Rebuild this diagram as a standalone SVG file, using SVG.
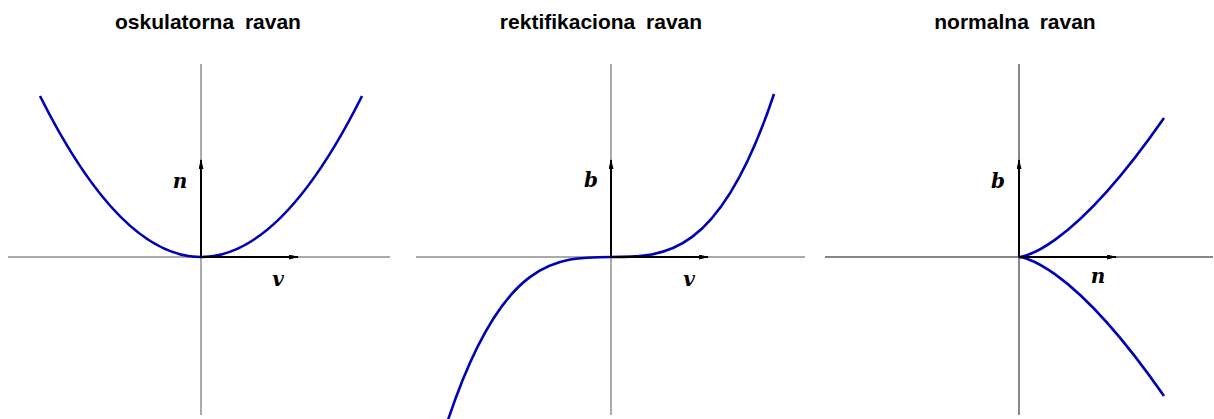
<svg xmlns="http://www.w3.org/2000/svg" width="1214" height="419" viewBox="0 0 1214 419">
<style>
.title{font-family:"Liberation Sans",Arial,sans-serif;font-weight:bold;font-size:21px;fill:#000;text-anchor:middle;word-spacing:5px}
.lbl{font-family:"DejaVu Serif","Liberation Serif",serif;font-weight:bold;font-style:italic;font-size:20px;fill:#000;text-anchor:middle}
.axis{stroke:#555;stroke-width:1;fill:none}
.axis3{stroke:#111;stroke-width:1;fill:none}
.vec{stroke:#000;stroke-width:2;fill:none;marker-end:url(#ah)}
.curve{stroke:#0000b4;stroke-width:2.6;fill:none}
</style>
<defs>
<marker id="ah" viewBox="0 0 10 5" refX="9" refY="2.5" markerWidth="5" markerHeight="2.5" orient="auto" markerUnits="strokeWidth">
<path d="M0,0 L10,2.5 L0,5 Z" fill="#000"/>
</marker>
</defs>
<g id="panel1">
<text class="title" x="208" y="29">oskulatorna ravan</text>
<line class="axis" x1="8" y1="257" x2="390" y2="257"/>
<line class="axis" x1="201" y1="64" x2="201" y2="415"/>
<path class="curve" d="M40,96 Q201,418 362,96"/>
<line class="vec" x1="201" y1="257" x2="201" y2="160"/>
<line class="vec" x1="201" y1="257" x2="298" y2="257"/>
<text class="lbl" x="180" y="188">n</text>
<text class="lbl" x="278" y="286">v</text>
</g>
<g id="panel2">
<text class="title" x="601" y="29">rektifikaciona ravan</text>
<line class="axis" x1="416" y1="257" x2="805" y2="257"/>
<line class="axis" x1="611" y1="64" x2="611" y2="415"/>
<path class="curve" d="M448,420 C556.7,94 665.3,420 774,94"/>
<line class="vec" x1="611" y1="257" x2="611" y2="160"/>
<line class="vec" x1="611" y1="257" x2="708" y2="257"/>
<text class="lbl" x="591" y="187">b</text>
<text class="lbl" x="689" y="286">v</text>
</g>
<g id="panel3">
<text class="title" x="1015" y="29">normalna ravan</text>
<line class="axis3" x1="825" y1="257" x2="1213" y2="257"/>
<line class="axis3" x1="1019" y1="64" x2="1019" y2="415"/>
<path class="curve" d="M1019,257 C1019,257 1067.3,257 1164,118"/>
<path class="curve" d="M1019,257 C1019,257 1067.3,257 1164,396"/>
<line class="vec" x1="1019" y1="257" x2="1019" y2="160"/>
<line class="vec" x1="1019" y1="257" x2="1116" y2="257"/>
<text class="lbl" x="998" y="188">b</text>
<text class="lbl" x="1098" y="283">n</text>
</g>
</svg>
